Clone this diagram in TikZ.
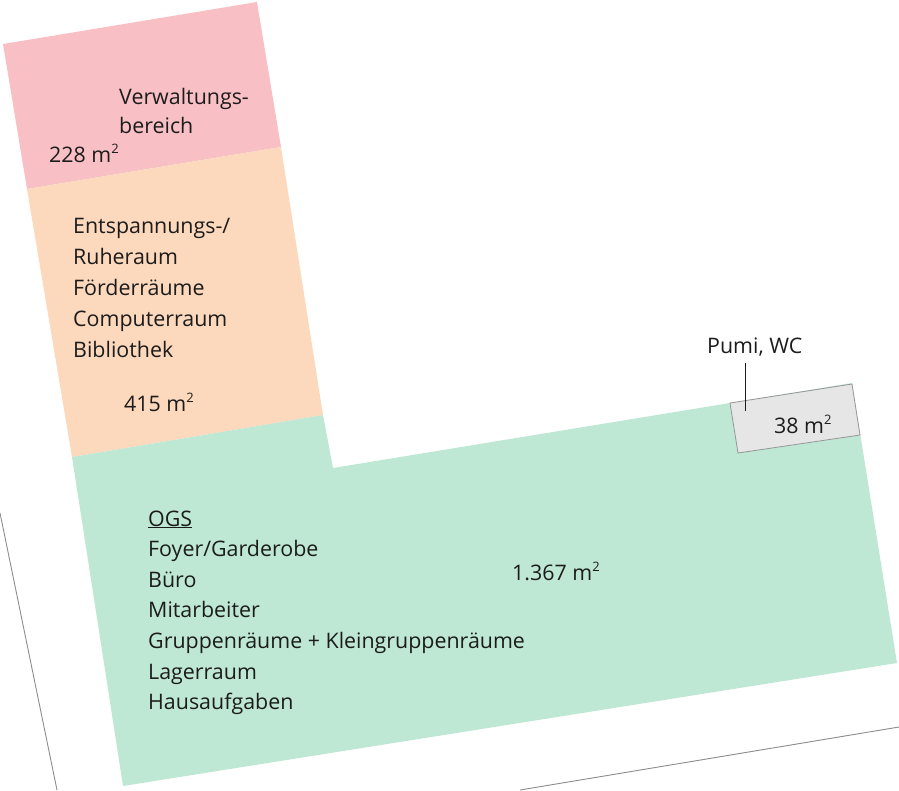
\documentclass[tikz,border=0pt]{standalone}
\usepackage{fontspec}
\setmainfont{Open Sans}
\definecolor{pinkc}{RGB}{248,192,196}
\definecolor{peachc}{RGB}{252,216,188}
\definecolor{greenc}{RGB}{190,232,212}
\definecolor{greyc}{RGB}{230,230,230}
\definecolor{greyb}{RGB}{150,150,150}
\definecolor{linec}{RGB}{140,140,140}
\definecolor{txtc}{RGB}{28,28,28}
\newcommand{\sqm}{m\raisebox{0.42em}{\fontsize{13}{13}\selectfont 2}}
\begin{document}
\begin{tikzpicture}[x=1pt,y=-1pt,
  lbl/.style={anchor=base west,inner sep=0pt,text=txtc,font=\fontsize{21.4}{30}\selectfont},
  border/.style={draw=linec,line width=0.9pt}]
\useasboundingbox (0,0) rectangle (899,790);
% areas
\fill[pinkc] (3,44) -- (257,2) -- (281,147) -- (27,189) -- cycle;
\fill[peachc] (27,189) -- (281,147) -- (323,415) -- (72,457) -- cycle;
\fill[greenc] (72,457) -- (323,415) -- (333,468) -- (852,383) -- (897,663) -- (123,786) -- cycle;
\filldraw[fill=greyc,draw=greyb,line width=0.8pt] (730,403) -- (852,384) -- (860,435) -- (738,453) -- cycle;
% plot boundary
\coordinate (b1) at (0,513);
\coordinate (b2) at (57,790);
\coordinate (b3) at (520,790);
\coordinate (b4) at (899,727);
\draw[border] (b1) -- (b2);
\draw[border] (b3) -- (b4);
% Verwaltung
\node[lbl] (v1) at (119,104) {Verwaltungs-};
\node[lbl] (v2) at (119,133) {bereich};
\node[lbl] (v3) at (49,162) {228 \sqm};
% Orange
\foreach \t [count=\i] in {Entspannungs-/,Ruheraum,Förderräume,Computerraum,Bibliothek}
  \node[lbl] (o\i) at (73,{233+31*(\i-1)}) {\t};
\node[lbl] (o6) at (124,411) {415 \sqm};
% OGS
\node[lbl] (g0) at (148,526) {\underline{OGS}};
\foreach \t [count=\i] in {Foyer/Garderobe,Büro,Mitarbeiter,Gruppenräume + Kleingruppenräume,Lagerraum,Hausaufgaben}
  \node[lbl] (g\i) at (148,{526+30.6*\i}) {\t};
\node[lbl] (gA) at (512,580) {1.367 \sqm};
% Pumi
\node[lbl] (pumi) at (707,353) {Pumi, WC};
\node[lbl] (wc) at (774,433) {38 \sqm};
\coordinate (lt) at (745,363);
\coordinate (lb) at (745,411);
\draw[txtc,line width=0.9pt] (lt) -- (lb);
\end{tikzpicture}
\end{document}
